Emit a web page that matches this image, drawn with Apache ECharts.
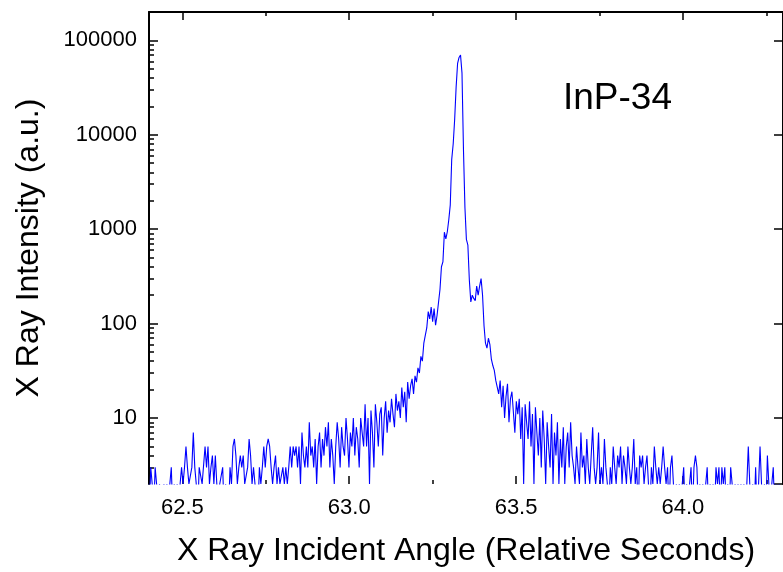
<!DOCTYPE html>
<html>
<head>
<meta charset="utf-8">
<script src="https://cdn.jsdelivr.net/npm/echarts@6/dist/echarts.min.js"></script>
<style>
html,body{margin:0;padding:0;background:#fff;}
#c{width:783px;height:572px;}
</style>
</head>
<body>
<div id="c"></div>
<script>
// ---- scan grid (relative seconds) ----
const angleStart = 62.392;
const angleStep = 0.0044;

// ---- counts, left to right ----
const countsLeftFar = [1,2,1,3,2,1,3,2,1,2, 1,1,2,1,2,1,2,3,1,2, 1,2,1,2,3,2,3,5,3,2, 2,3,7,3,2,1,3,3,2,2,
  5,3,5,2,3,4,2,4,2,1, 2,2,3,1,2,2,1,3,2,5, 6,4,2,3,4,3,4,2,2,3, 6,4,2,3,2,2,1,3,2,3,
  5,3,5,6,5,3,2,3,4,2, 3,2,2,3,2,3,2,3,5,3];
const countsLeftNear = [5,4,5,3,5,2,7,4,3,5, 3,9,4,5,3,6,2,5,7,3, 6,4,8,5,9,3,6,4,2,5,
  9,6,3,8,5,4,10,6,3,7, 5,10,4,8,6,3,10,7,5];
const countsLeftTail = [14,5,10,2,12,7,3,14,9,5, 11,13,4,10,15,7,12,9,16,11, 8,18,12,15,10,21,13,19,9,24,
  16,22,26,18,28,24,34,30,45,40, 62];
const countsPeak = [75,90,134,112,150,105,144,96,122,122, 230,400,450,930,790,940,1260,1800,5500,8000,
  14500,32000,57000,66000,70000,45000,7000,1700,780,680, 290,170,200,185,175,250,200,250,300,200,
  95,62,55,70,60,42,36,32,25];
const countsRightTail = [26,18,25,13,22,10,17,23,9,16, 19,19,7,15,11,16,6,13,2,14, 9,6,15,5,11,2,13,7,4,10,
  3,12,6,2,9,5,3,11,2,7, 4,9,2,6,3,8,2,5,7,3, 9,4];
const countsRightNoise = [3,2,5,3,2,7,3,4,2,6, 3,2,4,8,3,2,3,7,2,3, 2,6,3,2,1,3,2,5,3,2,
  4,3,5,2,4,3,2,5,3,2, 3,6,2,3,1,4,3,4,2,3, 4,2,1,3,2,5,3,2,3,2];
const countsRightFar = [3,5,3,2,3,1,3,4,2,1, 2,1,2,1,2,3,1,2,1,2, 3,1,3,4,3,1,2,1,2,1, 2,3,1,2,1,2,1,3,2,3,
  1,3,2,3,1,2,1,3,2,1, 2,1,2,1,2,1,2,1,2,5, 2,1,2,1,3,1,2,5,2,1, 2,1,4,2,1,2,3,1,2,1, 2,1];

// ---- axes ----
const xMajorTicks = [62.5, 63.0, 63.5, 64.0];
const xMinorTicks = [62.75, 63.25, 63.75, 64.25];
const yMinorTicks = [3,4,5,6,7,8,9, 20,30,40,50,60,70,80,90, 200,300,400,500,600,700,800,900,
  2000,3000,4000,5000,6000,7000,8000,9000, 20000,30000,40000,50000,60000,70000,80000,90000];
const X_MIN = 62.4, X_MAX = 64.3, Y_MIN = 2, Y_MAX = 200000;
const sampleLabel = 'InP-34';

const FONT = '"Liberation Sans", Arial, Helvetica, sans-serif';
const counts = [].concat(countsLeftFar, countsLeftNear, countsLeftTail, countsPeak,
  countsRightTail, countsRightNoise, countsRightFar);
const seriesData = counts.map((c, i) => [+(angleStart + i * angleStep).toFixed(4), c]);

function xAx(o) {
  return Object.assign({
    type: 'value', min: X_MIN, max: X_MAX, splitLine: {show: false},
    axisLine: {show: false}, axisLabel: {show: false}, axisTick: {show: false}
  }, o);
}

const chart = echarts.init(document.getElementById('c'), null, {renderer: 'canvas', width: 783, height: 572});
chart.setOption({
  animation: false,
  backgroundColor: '#ffffff',
  grid: {left: 149, right: -7, top: 12, bottom: 85, containLabel: false},
  xAxis: [
    xAx({position: 'bottom',
      name: 'X Ray Incident Angle (Relative Seconds)', nameLocation: 'middle', nameGap: 51,
      nameTextStyle: {fontFamily: FONT, fontSize: 32, color: '#000'},
      axisTick: {show: true, inside: true, length: 8, customValues: xMajorTicks, lineStyle: {color: '#000', width: 1.5}},
      axisLabel: {show: true, customValues: xMajorTicks, margin: 13, fontFamily: FONT, fontSize: 22, color: '#000',
        formatter: v => Number(v).toFixed(1)}}),
    xAx({position: 'bottom',
      axisTick: {show: true, inside: true, length: 4, customValues: xMinorTicks, lineStyle: {color: '#000', width: 1.5}}}),
    xAx({position: 'top',
      axisLine: {show: true, lineStyle: {color: '#000', width: 2}},
      axisTick: {show: true, inside: true, length: 8, customValues: xMajorTicks, lineStyle: {color: '#000', width: 1.5}}}),
    xAx({position: 'top',
      axisTick: {show: true, inside: true, length: 4, customValues: xMinorTicks, lineStyle: {color: '#000', width: 1.5}}})
  ],
  yAxis: [
    {type: 'log', logBase: 10, min: Y_MIN, max: Y_MAX, position: 'left',
      splitLine: {show: false},
      name: 'X Ray Intensity (a.u.)', nameLocation: 'middle', nameGap: 104, nameRotate: 90,
      nameTextStyle: {fontFamily: FONT, fontSize: 32, color: '#000'},
      axisLine: {show: true, lineStyle: {color: '#000', width: 2}},
      axisTick: {show: true, inside: true, length: 9, lineStyle: {color: '#000', width: 1.5}},
      axisLabel: {show: true, margin: 12, fontFamily: FONT, fontSize: 22, color: '#000',
        showMinLabel: false, showMaxLabel: false,
        formatter: v => { const e = Math.log10(v); return Math.abs(e - Math.round(e)) < 1e-6 ? String(Math.round(v)) : ''; }}},
    {type: 'value', min: Math.log10(Y_MIN), max: Math.log10(Y_MAX), position: 'left',
      splitLine: {show: false}, axisLine: {show: false}, axisLabel: {show: false},
      axisTick: {show: true, inside: true, length: 5, customValues: yMinorTicks.map(v => Math.log10(v)),
        lineStyle: {color: '#000', width: 1.5}}},
    {type: 'log', logBase: 10, min: Y_MIN, max: Y_MAX, position: 'right',
      splitLine: {show: false}, axisLabel: {show: false},
      axisLine: {show: true, lineStyle: {color: '#000', width: 2}},
      axisTick: {show: true, inside: true, length: 9, lineStyle: {color: '#000', width: 1.5}}}
  ],
  graphic: [{
    type: 'text', left: 563, top: 80,
    style: {text: sampleLabel, fontFamily: FONT, fontSize: 37, fill: '#000'}
  }],
  series: [{
    type: 'line', xAxisIndex: 0, yAxisIndex: 0, data: seriesData,
    showSymbol: false, symbol: 'none', clip: true,
    lineStyle: {color: '#0000ff', width: 1.1},
    emphasis: {disabled: true}
  }]
});
</script>
</body>
</html>
